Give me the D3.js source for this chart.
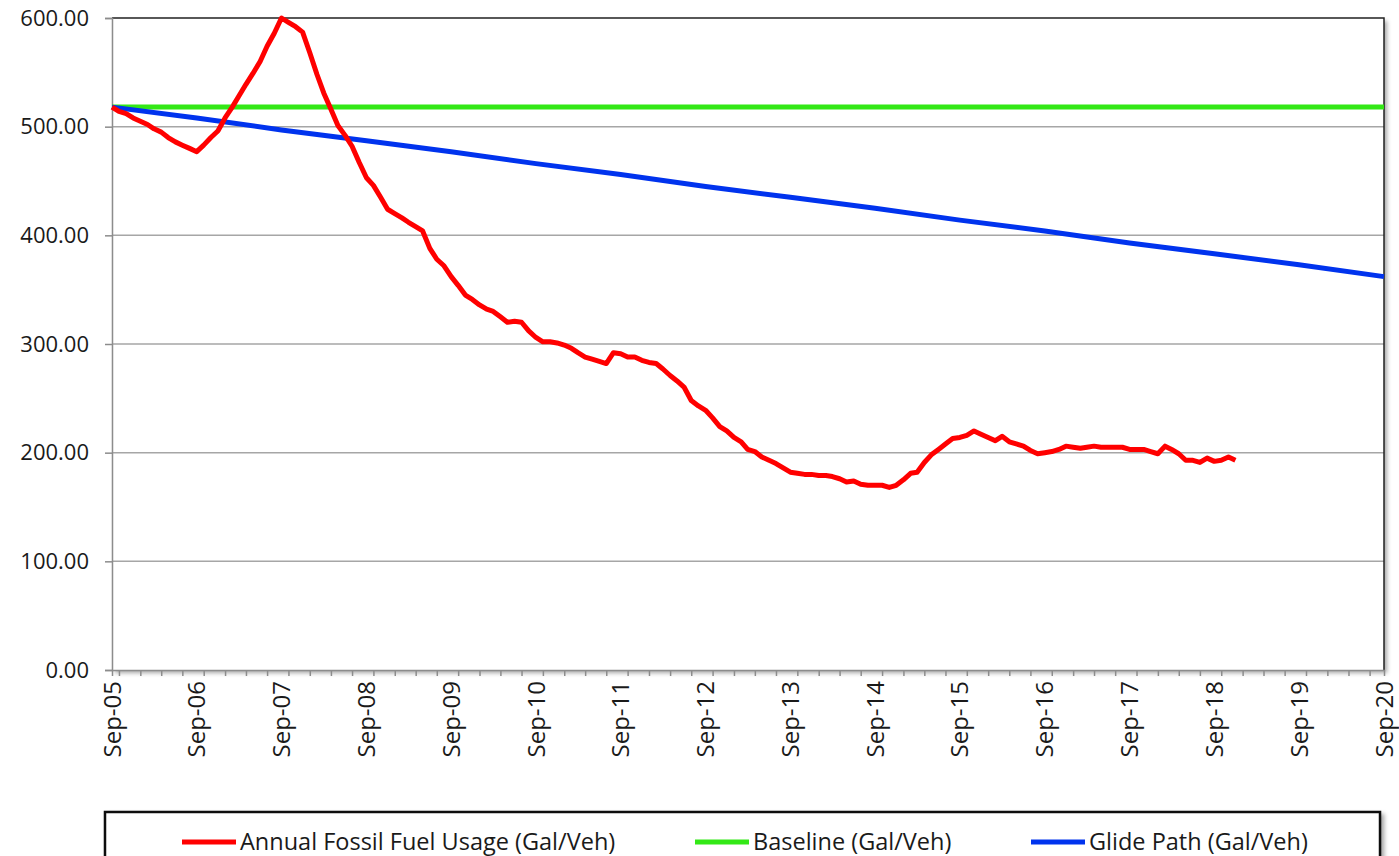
<!DOCTYPE html>
<html>
<head>
<meta charset="utf-8">
<script src="https://cdn.jsdelivr.net/npm/d3@7"></script>
<style>
  body { margin: 0; background: #fff; }
  text { font-family: "Open Sans", sans-serif; fill: #1a1a1a; }
</style>
</head>
<body>
<div id="chart"></div>
<script>
// Monthly annual fossil fuel usage (Gal/Veh), starting Sep-05
var fuelStart = new Date(2005, 8, 1);
var fuelUsage = [
  518, 514, 512, 508, 505, 502, 498, 495, 490, 486, 483, 480,
  477, 483, 490, 496, 508, 518, 528, 539, 549, 560, 574, 586,
  600, 596, 592, 587, 568, 548, 531, 516, 501, 492, 482, 467,
  453, 446, 435, 424, 420, 416, 412, 408, 404, 388, 378, 372,
  362, 354, 345, 341, 336, 332, 330, 325, 320, 321, 320, 312,
  306, 302, 302, 301, 299, 296, 292, 288, 286, 284, 282, 292,
  291, 288, 288, 285, 283, 282, 277, 271, 266, 260, 248, 243,
  239, 232, 224, 220, 214, 210, 203, 201, 196, 193, 190, 186,
  182, 181, 180, 180, 179, 179, 178, 176, 173, 174, 171, 170,
  170, 170, 168, 170, 175, 181, 182, 191, 198, 203, 208, 213,
  214, 216, 220, 217, 214, 211, 215, 210, 208, 206, 202, 199,
  200, 201, 203, 206, 205, 204, 205, 206, 205, 205, 205, 205,
  203, 203, 203, 201, 199, 206, 203, 199, 193, 193, 191, 195,
  192, 193, 196, 193
];

// Yearly (each September) reference lines
var years = d3.range(2005, 2021);
var baseline = [518, 518, 518, 518, 518, 518, 518, 518, 518, 518, 518, 518, 518, 518, 518, 518];
var glidePath = [518, 508, 497, 487, 477, 466, 456, 445, 435, 425, 414, 404, 393, 383, 373, 362];

var yTicks = [0, 100, 200, 300, 400, 500, 600];

var legendItems = [
  {name: "Annual Fossil Fuel Usage (Gal/Veh)", color: "#ff0000", x: 182},
  {name: "Baseline (Gal/Veh)", color: "#33e816", x: 695},
  {name: "Glide Path (Gal/Veh)", color: "#0033ee", x: 1031}
];

var W = 1399, H = 856;
var plot = {left: 112, top: 18, right: 1384, bottom: 670};

var svg = d3.select("#chart").append("svg")
    .attr("width", W)
    .attr("height", H);

var defs = svg.append("defs");
var shadow = defs.append("filter").attr("id", "shadow")
    .attr("x", "-5%").attr("y", "-5%").attr("width", "110%").attr("height", "130%");
shadow.append("feDropShadow")
    .attr("dx", 3).attr("dy", 3).attr("stdDeviation", 2)
    .attr("flood-color", "#000").attr("flood-opacity", 0.35);

var x = d3.scaleTime()
    .domain([new Date(2005, 8, 1), new Date(2020, 8, 1)])
    .range([plot.left, plot.right]);

var y = d3.scaleLinear()
    .domain([0, 600])
    .range([plot.bottom, plot.top]);

// plot frame with shadow
svg.append("rect")
    .attr("x", plot.left).attr("y", plot.top)
    .attr("width", plot.right - plot.left)
    .attr("height", plot.bottom - plot.top)
    .attr("fill", "#fff")
    .attr("filter", "url(#shadow)");

// gridlines
svg.append("g")
  .selectAll("line")
  .data(yTicks.filter(d => d > 0 && d < 600))
  .enter().append("line")
    .attr("x1", plot.left).attr("x2", plot.right)
    .attr("y1", d => y(d)).attr("y2", d => y(d))
    .attr("stroke", "#a6a6a6")
    .attr("stroke-width", 1.5);

// top and right borders
svg.append("path")
    .attr("d", "M" + plot.left + "," + plot.top + "H" + plot.right + "V" + plot.bottom)
    .attr("fill", "none")
    .attr("stroke", "#222")
    .attr("stroke-width", 1.5);

// y axis
var yAxis = svg.append("g")
    .attr("transform", "translate(" + plot.left + ",0)")
    .call(d3.axisLeft(y).tickValues(yTicks).tickSize(7).tickPadding(16)
      .tickFormat(d3.format(".2f")));
yAxis.selectAll("path, line").attr("stroke", "#8c8c8c").attr("stroke-width", 1.5);
yAxis.selectAll("text").style("font-size", "22px")
    .style("font-family", "'Open Sans', sans-serif").attr("fill", "#1a1a1a");

// x axis: quarterly minor ticks, yearly labels
var xMinor = svg.append("g")
    .attr("transform", "translate(0," + plot.bottom + ")")
    .call(d3.axisBottom(x).ticks(d3.timeMonth.every(3)).tickSize(6).tickFormat(""));
xMinor.selectAll("path, line").attr("stroke", "#8c8c8c").attr("stroke-width", 1.5);

var yearDates = years.map(yr => new Date(yr, 8, 1));
svg.append("g")
  .selectAll("text")
  .data(yearDates)
  .enter().append("text")
    .attr("transform", d => "translate(" + x(d) + "," + (plot.bottom + 11) + ") rotate(-90)")
    .attr("text-anchor", "end")
    .attr("dy", "0.36em")
    .style("font-size", "24px")
    .text(d3.timeFormat("%b-%y"));

// lines
var line = d3.line()
    .x(d => x(d.date))
    .y(d => y(d.value));

var fuelData = fuelUsage.map((v, i) => ({date: d3.timeMonth.offset(fuelStart, i), value: v}));
var baseData = baseline.map((v, i) => ({date: yearDates[i], value: v}));
var glideData = glidePath.map((v, i) => ({date: yearDates[i], value: v}));

svg.append("path").datum(baseData)
    .attr("d", line).attr("fill", "none")
    .attr("stroke", legendItems[1].color).attr("stroke-width", 5);

svg.append("path").datum(glideData)
    .attr("d", line).attr("fill", "none")
    .attr("stroke", legendItems[2].color).attr("stroke-width", 5);

svg.append("path").datum(fuelData)
    .attr("d", line).attr("fill", "none")
    .attr("stroke", legendItems[0].color).attr("stroke-width", 5)
    .attr("stroke-linejoin", "round");

// legend
var legend = svg.append("g");
legend.append("rect")
    .attr("x", 105).attr("y", 812)
    .attr("width", 1275).attr("height", 70)
    .attr("fill", "#fff")
    .attr("stroke", "#111").attr("stroke-width", 2.5)
    .attr("filter", "url(#shadow)");

var item = legend.selectAll(".item")
  .data(legendItems)
  .enter().append("g")
    .attr("transform", d => "translate(" + d.x + ",842)");
item.append("line")
    .attr("x1", 0).attr("x2", 54)
    .attr("stroke", d => d.color).attr("stroke-width", 5);
item.append("text")
    .attr("x", 58)
    .attr("dy", "0.35em")
    .style("font-size", "23.5px")
    .text(d => d.name);
</script>
</body>
</html>
